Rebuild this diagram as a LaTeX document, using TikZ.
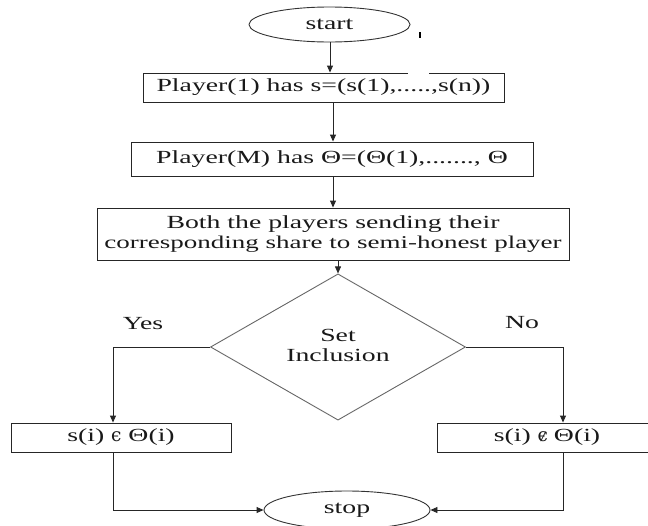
\documentclass[tikz,border=0pt]{standalone}
\usepackage{fontspec}
\setmainfont{Liberation Serif}[FakeStretch=1.5]
\newfontfamily\symfont{DejaVu Serif}
\usetikzlibrary{shapes.geometric,arrows.meta,calc}

% small epsilon-style membership signs
\newcommand{\epsmem}{{\symfont ϵ}}
\newcommand{\epsnotmem}{{\symfont ϵ}\kern-0.42em{\fontsize{14}{14}\selectfont /}\kern0.05em}

\tikzset{
  txt/.style={text=black!90, font=\fontsize{18.5}{23}\selectfont},
  stepbox/.style={txt, draw=black!85, line width=0.9pt, rectangle, inner sep=0pt, align=center},
  terminal/.style={txt, draw=black!80, line width=0.9pt, ellipse, inner sep=0pt},
  decision/.style={txt, draw=black!60, line width=0.9pt, diamond, inner sep=0pt, align=center},
  flow/.style={draw=black!85, line width=0.9pt, -{Triangle[length=7pt,width=6pt]}},
  plain/.style={draw=black!85, line width=0.9pt}
}

\begin{document}
\begin{tikzpicture}[x=1pt, y=-1pt]
\useasboundingbox (0,0) rectangle (648,525);
\clip (0,0) rectangle (648,525);

% terminals
\node[terminal, minimum width=161pt, minimum height=35pt] (start) at (329.5,24.5) {start};
\node[terminal, minimum width=166pt, minimum height=38pt] (stop) at (347,510) {stop};

% process steps
\node[stepbox, minimum width=361pt, minimum height=29pt] (b1) at (323.5,87.5)
  {Player(1) has s=(s(1),.....,s(n))};
\node[stepbox, minimum width=402pt, minimum height=34pt] (b2) at (332,159)
  {Player(M) has Θ=(Θ(1),......., Θ};
\node[stepbox, minimum width=472pt, minimum height=52pt] (b3) at (333,234)
  {Both the players sending their\\[-3pt] {\fontsize{18}{23}\selectfont corresponding share to semi-honest player}};

% decision
\node[decision, minimum width=255pt, minimum height=124pt] (dia) at (338,347)
  {\raisebox{7pt}{\begin{tabular}{@{}c@{}}Set\\[-3pt] Inclusion\end{tabular}}};

% outcomes
\node[stepbox, minimum width=220pt, minimum height=29pt] (lb) at (121,437.5)
  {s(i) \epsmem{} Θ(i)};
\node[stepbox, minimum width=220pt, minimum height=29pt] (rb) at (547,437.5)
  {s(i) \epsnotmem{} Θ(i)};

% branch labels
\node[txt] (yes) at (143,324) {Yes};
\node[txt] (no) at (522,323) {No};

% small break in the top edge of the first box and the stray tick
\draw[white, line width=2pt] (408,73) -- (429,73);
\coordinate (tickA) at (420,32);
\coordinate (tickB) at (420,37.5);
\draw[black, line width=2pt] (tickA) -- (tickB);

% connectors
\coordinate (sa) at ($(start.south)+(0.5,0)$);
\draw[flow] (sa) -- (sa |- b1.north);
\coordinate (b12) at (333,0);
\draw[flow] (b12 |- b1.south) -- (b12 |- b2.north);
\draw[flow] (b12 |- b2.south) -- (b12 |- b3.north);
\draw[flow] (dia.north |- b3.south) -- (dia.north);

\coordinate (lx) at ($(lb.north)+(-8,0)$);
\coordinate (rx) at ($(rb.north)+(16,0)$);
\draw[flow] (dia.west) -| (lx);
\draw[flow] (dia.east) -| (rx);

\coordinate (lxs) at ($(lb.south)+(-8,0)$);
\coordinate (rxs) at ($(rb.south)+(16,0)$);
\draw[flow] (lxs) |- (stop.west);
\draw[flow] (rxs) |- (stop.east);
\end{tikzpicture}
\end{document}
